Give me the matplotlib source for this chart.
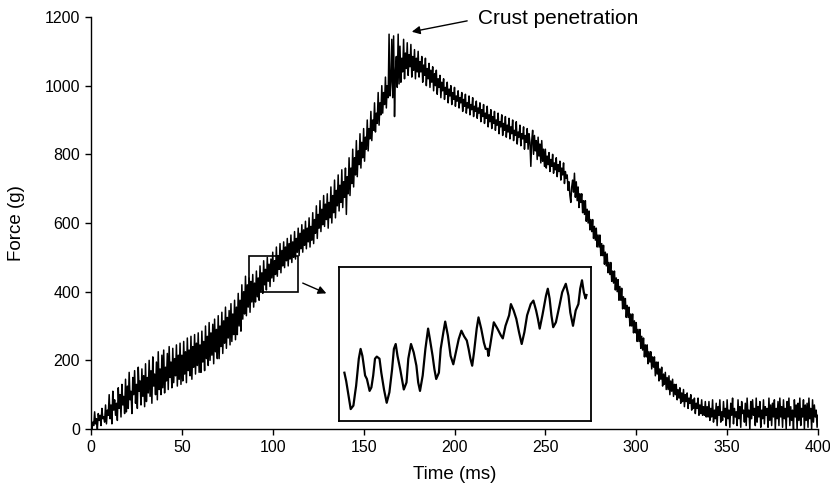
import matplotlib
matplotlib.use("Agg")
import matplotlib.pyplot as plt
from matplotlib.patches import Rectangle

plt.rcParams['font.family'] = ['Liberation Sans', 'DejaVu Sans']

# Main force trace (g), one value every 0.5 ms from 0 to 400 ms
sample_step_ms = 0.5
force = [
    35, 0, 20, 10, 50, 15, 30, 0, 45, 25, 40, 10, 60, 30, 35, 20, 70, 15, 55, 40,
    100, 30, 70, 15, 110, 55, 85, 40, 75, 25, 120, 60, 100, 35, 130, 70, 95, 45, 145, 50,
    125, 60, 165, 85, 110, 45, 150, 100, 170, 75, 130, 60, 180, 110, 140, 70, 175, 95, 155, 65,
    190, 80, 150, 105, 200, 95, 170, 75, 210, 125, 160, 100, 195, 85, 225, 115, 175, 100, 215, 120,
    230, 105, 180, 140, 220, 115, 240, 150, 195, 120, 235, 135, 205, 155, 245, 125, 215, 145, 250, 130,
    215, 140, 255, 160, 225, 135, 265, 170, 230, 155, 270, 145, 240, 180, 275, 160, 250, 185, 280, 165,
    245, 165, 285, 195, 255, 170, 300, 205, 270, 185, 310, 200, 280, 215, 305, 190, 320, 225, 290, 205,
    330, 205, 300, 240, 340, 220, 315, 250, 355, 235, 325, 265, 345, 245, 365, 255, 335, 275, 375, 260,
    355, 275, 395, 300, 375, 285, 420, 320, 400, 335, 445, 330, 420, 355, 440, 340, 430, 370, 450, 355,
    425, 370, 460, 385, 440, 375, 475, 400, 455, 395, 490, 420, 465, 405, 500, 430, 480, 415, 495, 440,
    515, 430, 490, 450, 530, 445, 505, 465, 540, 455, 520, 475, 545, 470, 530, 490, 555, 475, 540, 495,
    565, 485, 545, 500, 575, 495, 555, 515, 585, 505, 570, 525, 595, 515, 580, 535, 605, 525, 585, 545,
    615, 530, 590, 550, 630, 540, 610, 570, 650, 555, 625, 585, 665, 575, 640, 595, 680, 590, 655, 610,
    685, 585, 660, 615, 705, 600, 680, 630, 725, 615, 695, 650, 740, 635, 710, 660, 755, 645, 720, 675,
    760, 625, 735, 685, 790, 680, 760, 715, 815, 705, 790, 740, 840, 735, 810, 770, 860, 760, 835, 790,
    875, 780, 850, 815, 900, 810, 875, 845, 925, 840, 900, 870, 950, 865, 920, 890, 980, 885, 950, 915,
    1000, 920, 980, 945, 1025, 935, 1000, 965, 1150, 970, 1010, 1135, 965, 1145, 910, 1040, 1085, 995, 1150, 1005,
    1115, 1010, 1080, 1040, 1135, 1020, 1095, 1050, 1125, 1030, 1090, 1055, 1120, 1025, 1085, 1045, 1105, 1020, 1080, 1040,
    1100, 1025, 1070, 1040, 1085, 1010, 1060, 1030, 1080, 1000, 1050, 1020, 1065, 995, 1045, 1010, 1055, 985, 1035, 1000,
    1045, 975, 1020, 995, 1030, 965, 1010, 985, 1020, 960, 995, 975, 1010, 950, 990, 970, 1000, 945, 980, 960,
    995, 940, 970, 955, 985, 935, 965, 950, 980, 925, 960, 940, 975, 920, 950, 935, 970, 915, 945, 930,
    965, 910, 940, 925, 955, 905, 935, 920, 950, 895, 930, 910, 945, 890, 920, 905, 940, 880, 915, 895,
    930, 875, 910, 890, 925, 870, 900, 885, 920, 860, 895, 880, 915, 855, 890, 870, 910, 850, 885, 865,
    905, 845, 880, 860, 900, 840, 870, 855, 895, 830, 865, 850, 885, 825, 860, 845, 880, 815, 855, 835,
    875, 815, 860, 835, 765, 840, 870, 800, 855, 810, 840, 785, 850, 795, 830, 775, 840, 780, 815, 765,
    815, 760, 795, 770, 805, 750, 785, 765, 800, 745, 775, 755, 790, 735, 770, 750, 780, 725, 760, 740,
    775, 715, 750, 730, 740, 695, 720, 680, 660, 705, 725, 690, 745, 675, 720, 665, 705, 645, 685, 660,
    685, 630, 665, 625, 665, 605, 640, 600, 635, 580, 610, 575, 610, 555, 590, 550, 585, 530, 565, 530,
    565, 505, 540, 505, 535, 480, 515, 475, 510, 455, 485, 450, 485, 430, 460, 425, 460, 405, 440, 400,
    435, 375, 415, 375, 410, 350, 385, 350, 380, 325, 360, 325, 355, 300, 335, 300, 335, 280, 315, 280,
    310, 255, 290, 255, 290, 235, 270, 230, 265, 210, 245, 210, 245, 190, 225, 195, 225, 175, 210, 180,
    210, 155, 195, 160, 195, 140, 175, 145, 180, 125, 160, 130, 165, 115, 150, 115, 155, 100, 140, 110,
    145, 95, 130, 100, 130, 85, 115, 90, 120, 75, 105, 80, 115, 65, 100, 80, 105, 60, 90, 75,
    100, 55, 85, 60, 90, 45, 75, 60, 90, 40, 70, 45, 85, 40, 65, 40, 80, 35, 65, 35,
    80, 25, 60, 35, 85, 20, 55, 30, 75, 10, 65, 40, 85, 20, 50, 25, 80, 35, 60, 10,
    85, 30, 55, 5, 75, 40, 90, 15, 60, 35, 50, 10, 85, 30, 65, 5, 80, 45, 55, 20,
    75, 10, 90, 35, 55, 0, 80, 30, 85, 40, 60, 10, 90, 20, 65, 35, 80, 5, 55, 30,
    85, 15, 65, 40, 60, 5, 90, 25, 70, 10, 75, 35, 85, 0, 60, 30, 80, 10, 90, 35,
    65, 5, 85, 30, 60, 0, 80, 35, 90, 10, 65, 25, 55, 0, 85, 35, 70, 0, 75, 25,
    90, 10, 60, 35, 85, 0, 70, 25, 75, 5, 90, 30, 60, 0, 85, 20, 70, 35, 55, 5,
    40,
]
time = [i * sample_step_ms for i in range(len(force))]

# Zoomed detail shown in the inset (ms, g)
inset_time = [
    87.1, 87.3, 87.5, 87.8, 88.1, 88.3, 88.4, 88.7, 88.9, 89.1,
    89.2, 89.4, 89.6, 89.9, 90.1, 90.3, 90.5, 90.7, 91.0, 91.2,
    91.5, 91.8, 92.1, 92.4, 92.6, 92.8, 93.0, 93.3, 93.7, 94.0,
    94.2, 94.5, 94.8, 95.1, 95.3, 95.5, 95.8, 96.1, 96.4, 96.6,
    96.9, 97.1, 97.3, 97.6, 97.8, 98.1, 98.3, 98.6, 98.9, 99.2,
    99.4, 99.8, 100.1, 100.4, 100.7, 100.9, 101.1, 101.3, 101.5, 101.8,
    102.0, 102.3, 102.6, 102.8, 103.0, 103.1, 103.3, 103.7, 104.1, 104.5,
    104.7, 105.0, 105.4, 105.6, 105.9, 106.2, 106.5, 106.8, 107.1, 107.4,
    107.8, 108.1, 108.4, 108.6, 108.8, 109.1, 109.5, 109.7, 109.9, 110.1,
    110.3, 110.6, 111.0, 111.3, 111.7, 112.0, 112.2, 112.5, 112.8, 113.1,
    113.3, 113.5, 113.7, 113.9, 114.0,
]
inset_force = [
    409, 397, 381, 357, 362, 381, 390, 429, 443, 433,
    424, 405, 400, 383, 388, 405, 429, 432, 429, 409,
    385, 366, 381, 414, 443, 450, 433, 414, 385, 395,
    429, 450, 438, 419, 395, 383, 405, 443, 472, 457,
    433, 414, 400, 409, 443, 467, 482, 462, 433, 421,
    433, 457, 469, 461, 455, 443, 429, 419, 438, 472,
    488, 472, 452, 443, 443, 433, 448, 481, 472, 462,
    458, 476, 491, 507, 498, 486, 467, 450, 467, 491,
    507, 512, 498, 486, 472, 491, 519, 529, 515, 491,
    474, 481, 505, 524, 536, 519, 495, 476, 498, 507,
    529, 541, 524, 515, 520,
]

# Zoom window marked on the main trace
zoom_t0, zoom_t1 = 87, 114
zoom_f0, zoom_f1 = 400, 505

fig = plt.figure(figsize=(8.30, 4.96), dpi=100)
ax = fig.add_axes([91/830, 1 - 429/496, (818 - 91)/830, (429 - 17)/496])

ax.plot(time, force, color='black', lw=1.1)
ax.set_xlim(0, 400)
ax.set_ylim(0, 1200)
ax.set_xticks(range(0, 401, 50))
ax.set_yticks(range(0, 1201, 200))
for s in ['top', 'right']:
    ax.spines[s].set_visible(False)
for s in ['left', 'bottom']:
    ax.spines[s].set_linewidth(1.0)
ax.tick_params(direction='out', length=4, width=1.0, labelsize=11.5, pad=4)
ax.set_xlabel('Time (ms)', fontsize=13.5, labelpad=8)
ax.set_ylabel('Force (g)', fontsize=13.5, labelpad=14)

ax.add_patch(Rectangle((zoom_t0, zoom_f0), zoom_t1 - zoom_t0, zoom_f1 - zoom_f0,
                       fill=False, edgecolor='black', lw=1.2, zorder=3))

ax.annotate('', xy=(129.5, 395), xytext=(116.5, 425),
            arrowprops=dict(arrowstyle='-|>', color='black', lw=1.0,
                            mutation_scale=12, shrinkA=0, shrinkB=0))

ax.annotate('Crust penetration', xy=(176.5, 1157), xytext=(213.0, 1195),
            fontsize=15, va='center', ha='left', annotation_clip=False,
            arrowprops=dict(arrowstyle='-|>', color='black', lw=1.0,
                            mutation_scale=12, shrinkA=6, shrinkB=0,
                            relpos=(0, 0.5)))

iax = fig.add_axes([339/830, 1 - 421/496, 252/830, 154/496])
iax.plot(inset_time, inset_force, color='black', lw=1.6)
iax.set_xlim(86.5, 114.5)
iax.set_ylim(340, 560)
iax.set_xticks([])
iax.set_yticks([])
for s in iax.spines.values():
    s.set_linewidth(1.3)

fig.savefig('out.png', dpi=100)
